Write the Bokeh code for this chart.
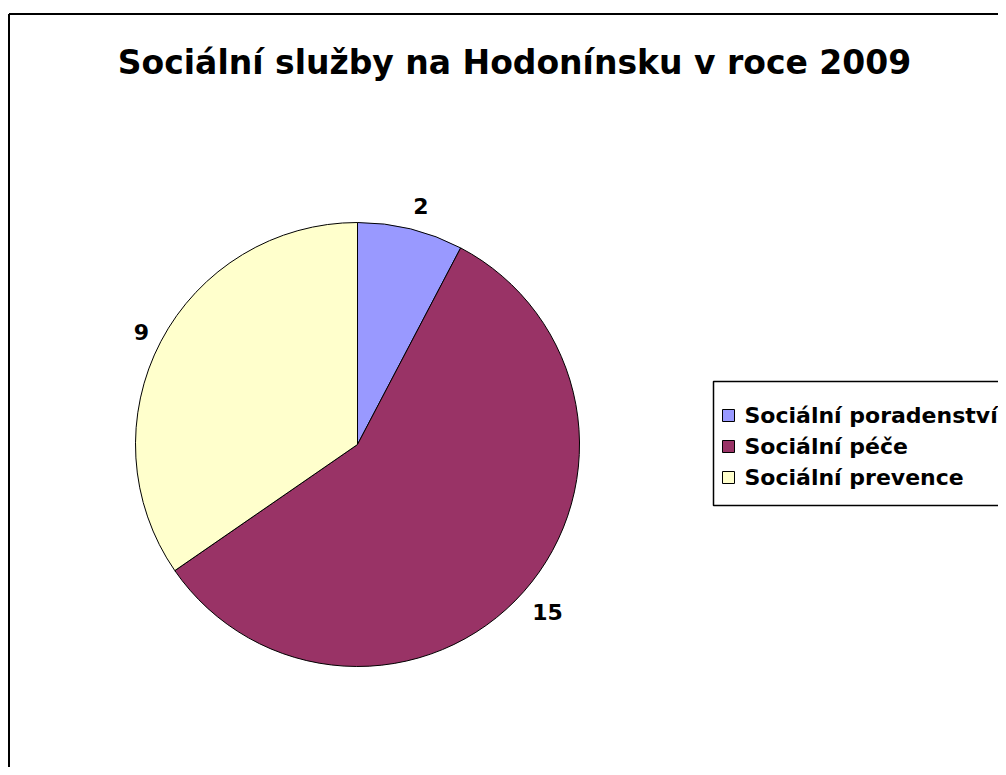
import math
from bokeh.plotting import figure
from bokeh.models import ColumnDataSource, Range1d
from bokeh.core.properties import value
from bokeh.embed import file_html
from bokeh.resources import INLINE

title = "Sociální služby na Hodonínsku v roce 2009"
categories = ["Sociální poradenství", "Sociální péče", "Sociální prevence"]
counts = [2, 15, 9]
colors = ["#9999FF", "#993366", "#FFFFCC"]

W, H = 998, 767
FONT = "DejaVu Sans"

p = figure(width=W, height=H, output_backend="svg", toolbar_location=None,
           x_range=Range1d(0, W), y_range=Range1d(0, H), min_border=0)
p.axis.visible = False
p.grid.visible = False
p.outline_line_color = None
p.background_fill_color = "white"
p.border_fill_color = "white"

# outer chart border (only top and left visible in the window)
p.segment(x0=[8.5, 8.5], y0=[753.5, 753.5], x1=[8.5, W + 5], y1=[-5, 753.5],
          line_color="black", line_width=2)

# pie
cx, cy, r = 357, 323, 222
total = sum(counts)
starts, ends, mids = [], [], []
acc = 0.0
for c in counts:
    a0 = math.pi / 2 - 2 * math.pi * acc / total
    acc += c
    a1 = math.pi / 2 - 2 * math.pi * acc / total
    starts.append(a0)
    ends.append(a1)
    mids.append((a0 + a1) / 2)

src = ColumnDataSource(dict(start=starts, end=ends, color=colors))
p.wedge(x=cx, y=cy, radius=r, start_angle="start", end_angle="end",
        direction="clock", fill_color="color", line_color="black",
        line_width=1, source=src)

lr = r * 1.12
p.text(x=[cx + lr * math.cos(m) for m in mids],
       y=[cy + lr * math.sin(m) for m in mids],
       text=[str(c) for c in counts], text_align="center",
       text_baseline="middle", text_font=value(FONT),
       text_font_style="bold", text_font_size="22px", text_color="black",
       x_offset=4, y_offset=3)

# title
p.text(x=[514], y=[705], text=[title], text_align="center",
       text_baseline="middle", text_font=value(FONT),
       text_font_style="bold", text_font_size="33px", text_color="black")

# legend
p.quad(left=[713], right=[W + 20], top=[386], bottom=[262],
       fill_color="white", line_color="black", line_width=1.5)
rows = [352 - 31 * i for i in range(len(categories))]
p.scatter(x=[728] * len(categories), y=rows, marker="square", size=12,
          fill_color=colors, line_color="black", line_width=1)
p.text(x=[744] * len(categories), y=rows, text=categories, text_align="left",
       text_baseline="middle", text_font=value(FONT),
       text_font_style="bold", text_font_size="22px", text_color="black")

open("out.html", "w").write(file_html(p, INLINE))
